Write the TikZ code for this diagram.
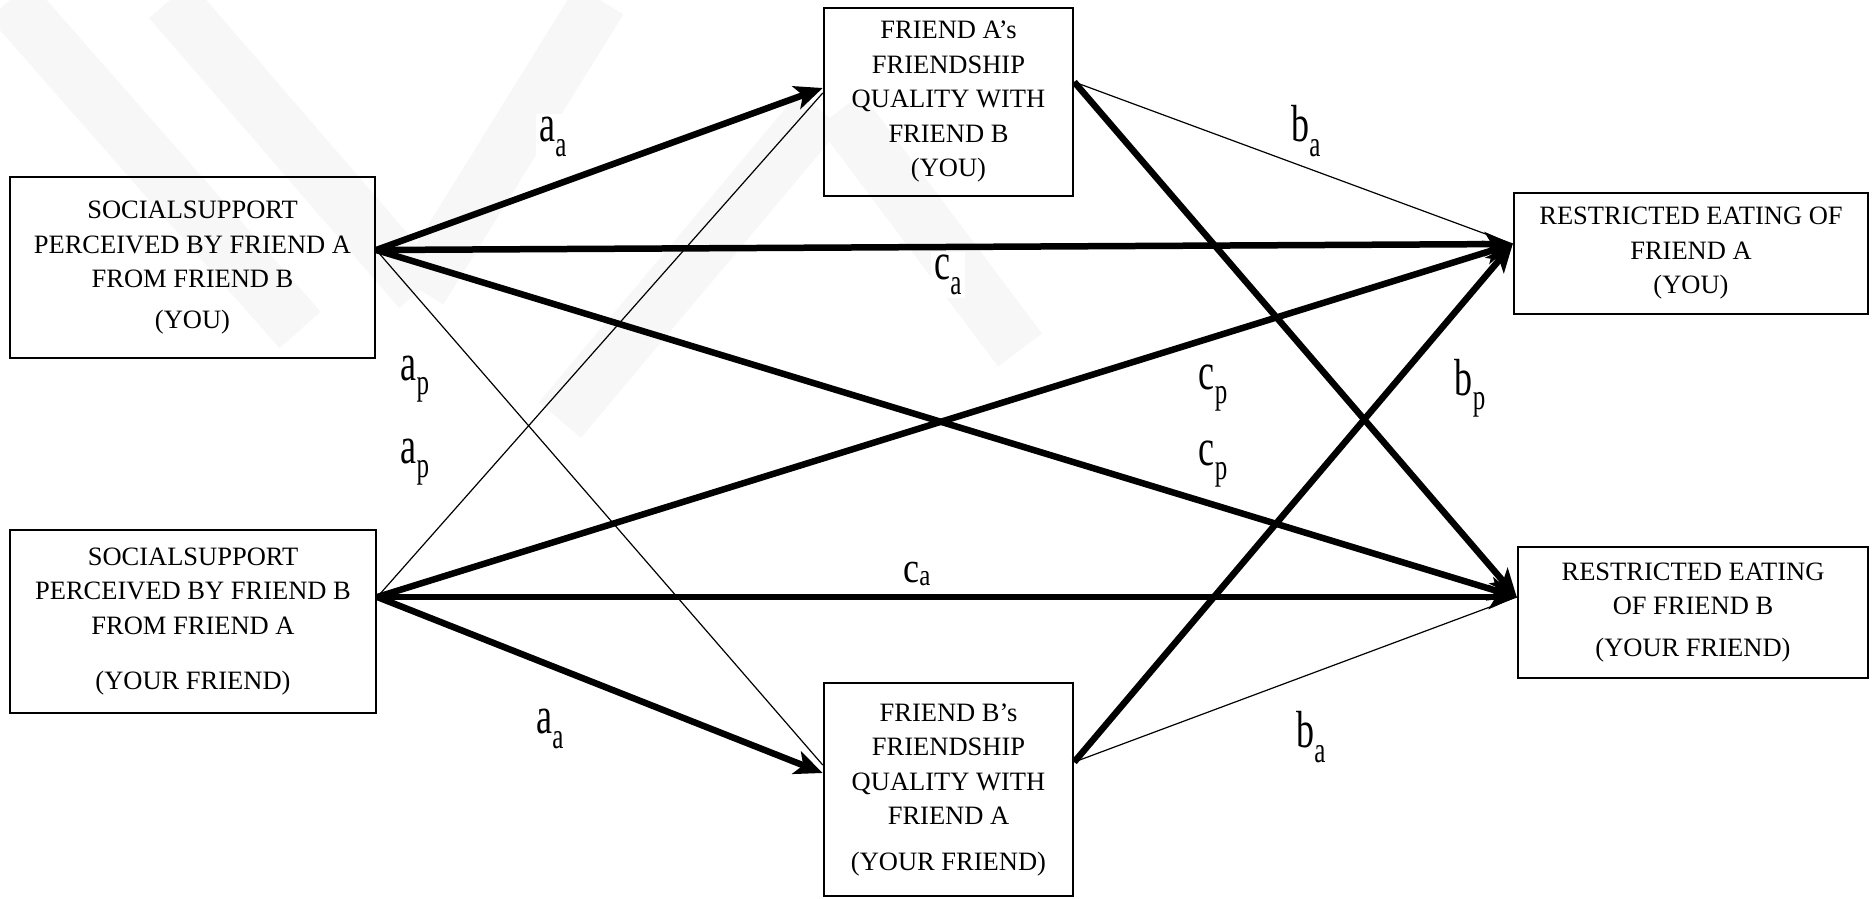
\documentclass[tikz,border=0pt]{standalone}
\usepackage{fontspec}
\setmainfont{Liberation Serif}
\usetikzlibrary{arrows.meta}
\newcommand{\plab}[2]{\scalebox{1}[1.45]{#1\raisebox{-10pt}{\fontsize{25}{25}\selectfont #2}}}
\newcommand{\plabflat}[2]{\scalebox{1}[1.2]{#1\raisebox{-3pt}{\fontsize{25}{25}\selectfont #2}}}
\tikzset{
  box/.style={draw, line width=2.5pt, align=center, inner sep=0pt,
    font=\fontsize{26.5}{34.5}\selectfont},
  thick arrow/.style={line width=6.5pt, -{Stealth[length=28pt,width=24pt,inset=7pt]}},
  thin line/.style={line width=1.2pt},
  plabel/.style={fill=white, inner sep=3pt, font=\fontsize{36}{36}\selectfont},
  wmark/.style={line width=55pt, black!3, line cap=butt}
}
\begin{document}
\begin{tikzpicture}[x=1pt,y=-1pt]
\useasboundingbox (0,0) rectangle (1874,898);
% faint watermark
\draw[wmark] (10,0) -- (300,330);
\draw[wmark] (170,0) -- (420,290);
\draw[wmark] (600,0) -- (420,290);
\draw[wmark] (560,420) -- (820,110);
\draw[wmark] (840,110) -- (1020,350);
% boxes
\node[box, minimum width=365pt, minimum height=181pt] (b1) at (192.5,267.5)
  {SOCIALSUPPORT\\PERCEIVED BY FRIEND A\\FROM FRIEND B\\[6pt](YOU)};
\node[box, minimum width=366pt, minimum height=183pt] (b2) at (193,621.5)
  {SOCIALSUPPORT\\PERCEIVED BY FRIEND B\\FROM FRIEND A\\[21pt](YOUR FRIEND)};
\node[box, minimum width=249pt, minimum height=188pt] (b3) at (948.5,102)
  {FRIEND A’s\\FRIENDSHIP\\QUALITY WITH\\FRIEND B\\(YOU)};
\node[box, minimum width=249pt, minimum height=213pt] (b4) at (948.5,789.5)
  {FRIEND B’s\\FRIENDSHIP\\QUALITY WITH\\FRIEND A\\[11pt](YOUR FRIEND)};
\node[box, minimum width=354pt, minimum height=121pt] (b5) at (1691,253.5)
  {RESTRICTED EATING OF\\FRIEND A\\(YOU)};
\node[box, minimum width=350pt, minimum height=131pt] (b6) at (1693,612.5)
  {RESTRICTED EATING\\OF FRIEND B\\[7pt](YOUR FRIEND)};
% connection points
\coordinate (b1o) at ([yshift=17.5pt]b1.east);
\coordinate (b2o) at ([yshift=24.5pt]b2.east);
\coordinate (b3i) at ([yshift=14pt]b3.west);
\coordinate (b3t) at ([yshift=9pt]b3.west);
\coordinate (b3o) at ([yshift=20pt]b3.east);
\coordinate (b4i) at ([yshift=16.5pt]b4.west);
\coordinate (b4t) at ([yshift=24.5pt]b4.west);
\coordinate (b4o) at ([yshift=27.5pt]b4.east);
\coordinate (b5i) at ([yshift=9.5pt]b5.west);
\coordinate (b6i) at ([yshift=15.5pt]b6.west);
% thin connectors
\draw[thin line] (b1o) -- (b4t);
\draw[thin line] (b2o) -- (b3t);
\draw[thin line] (b3o) -- (b5i);
\draw[thin line] (b4o) -- (b6i);
% thick connectors
\draw[thick arrow] (b1o) -- (b3i);
\draw[thick arrow] (b1o) -- (b5i);
\draw[thick arrow] (b1o) -- (b6i);
\draw[thick arrow] (b2o) -- (b5i);
\draw[thick arrow] (b2o) -- (b6i);
\draw[thick arrow] (b2o) -- (b4i);
\draw[thick arrow] (b3o) -- (b6i);
\draw[thick arrow] (b4o) -- (b5i);
% path labels
\node[plabel] (laa1) at (553,137) {\plab{a}{a}};
\node[plabel] (lca1) at (948,275) {\plab{c}{a}};
\node[plabel] (lap1) at (415,379) {\plab{a}{p}};
\node[plabel] (lap2) at (415,462) {\plab{a}{p}};
\node[plabel] (lcp1) at (1213,388) {\plab{c}{p}};
\node[plabel] (lcp2) at (1213,464) {\plab{c}{p}};
\node[plabel] (lba1) at (1306,131) {\plab{b}{a}};
\node[plabel] (lbp1) at (1470,388) {\plab{b}{p}};
\node[plabel] (lca2) at (917,574) {\plabflat{c}{a}};
\node[plabel] (laa2) at (550,729) {\plab{a}{a}};
\node[plabel] (lba2) at (1311,737) {\plab{b}{a}};
\end{tikzpicture}
\end{document}
